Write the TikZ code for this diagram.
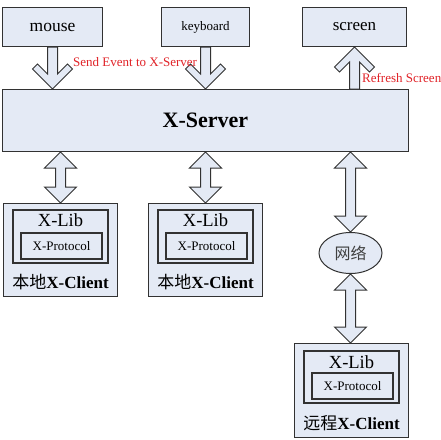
\documentclass[tikz,border=0pt]{standalone}
\usepackage{fontspec}
\setmainfont{Liberation Serif}
\newfontfamily\cjk{Noto Sans CJK SC}
\usetikzlibrary{calc,shapes.geometric}
\definecolor{boxfill}{RGB}{228,234,245}
\definecolor{edgegray}{RGB}{50,50,50}
\definecolor{lblred}{RGB}{225,35,40}
\newcommand\fs[1]{\fontsize{#1}{#1}\selectfont}
\newcommand\downarrowblk[2]{%
 \draw[blk] ($(#1)+(-5pt,0pt)$) -- ($(#2)+(-5pt,15pt)$) -- ($(#2)+(-15pt,25pt)$) -- ($(#2)+(-20pt,20pt)$) -- (#2) -- ($(#2)+(20pt,20pt)$) -- ($(#2)+(15pt,25pt)$) -- ($(#2)+(5pt,15pt)$) -- ($(#1)+(5pt,0pt)$) -- cycle;}
\newcommand\uparrowblk[2]{%
 \draw[blk] ($(#1)+(-5pt,0pt)$) -- ($(#2)+(-5pt,-15pt)$) -- ($(#2)+(-15pt,-25pt)$) -- ($(#2)+(-20pt,-20pt)$) -- (#2) -- ($(#2)+(20pt,-20pt)$) -- ($(#2)+(15pt,-25pt)$) -- ($(#2)+(5pt,-15pt)$) -- ($(#1)+(5pt,0pt)$) -- cycle;}
\newcommand\dblarrowblk[2]{%
 \draw[blk] (#1) -- ($(#1)+(16pt,-16pt)$) -- ($(#1)+(5pt,-16pt)$) -- ($(#2)+(5pt,16pt)$) -- ($(#2)+(16pt,16pt)$) -- (#2) -- ($(#2)+(-16pt,16pt)$) -- ($(#2)+(-5pt,16pt)$) -- ($(#1)+(-5pt,-16pt)$) -- ($(#1)+(-16pt,-16pt)$) -- cycle;}
\begin{document}
\begin{tikzpicture}[x=1pt,y=-1pt,
  devbox/.style={draw=edgegray,fill=boxfill,line width=1pt,inner sep=0pt},
  innerbox/.style={draw=edgegray,fill=boxfill,line width=1.6pt,inner sep=0pt},
  blk/.style={draw=edgegray,fill=boxfill,line width=1pt,line join=miter},
  lbl/.style={inner sep=0pt,text=black},
  redlbl/.style={inner sep=0pt,text=lblred,font=\fs{13}},
  ]
\fill[white] (0,0) rectangle (441,439);
\useasboundingbox (0,0) rectangle (441,439);
% top devices
\node[devbox,minimum width=100pt,minimum height=39pt,font=\fs{17.5}] (mouse) at (52.5,27) {mouse};
\node[devbox,minimum width=88pt,minimum height=39pt,font=\fs{13}] (keyboard) at (205.5,27) {keyboard};
\node[devbox,minimum width=104pt,minimum height=39pt,font=\fs{17}] (screen) at (354.5,27) {screen};
% server
\node[devbox,minimum width=406pt,minimum height=62pt,font=\bfseries\fs{22}] (server) at (205.5,120.5) {X-Server};
% local client 1
\node[devbox,minimum width=114pt,minimum height=93pt] (c1) at (60.5,250) {};
\node[innerbox,minimum width=95pt,minimum height=53pt] (c1lib) at (60.5,236.5) {};
\node[innerbox,minimum width=81pt,minimum height=26pt,font=\fs{13}] (c1proto) at (61.5,246) {X-Protocol};
\node[lbl,font=\fs{18.5}] (c1libt) at (60.5,220.5) {X-Lib};
\node[lbl,font=\fs{17}] (c1name) at (60.5,282) {{\cjk 本地}\textbf{X-Client}};
% local client 2
\node[devbox,minimum width=114pt,minimum height=93pt] (c2) at (205.5,250) {};
\node[innerbox,minimum width=95pt,minimum height=53pt] (c2lib) at (205.5,236.5) {};
\node[innerbox,minimum width=81pt,minimum height=26pt,font=\fs{13}] (c2proto) at (206.5,246) {X-Protocol};
\node[lbl,font=\fs{18.5}] (c2libt) at (205.5,220.5) {X-Lib};
\node[lbl,font=\fs{17}] (c2name) at (205.5,282) {{\cjk 本地}\textbf{X-Client}};
% network
\node[draw=edgegray,fill=boxfill,line width=1pt,ellipse,inner sep=0pt,minimum width=63pt,minimum height=41pt,font=\cjk\fs{16},text=black!75] (net) at (350.5,253) {网络};
% remote client
\node[devbox,minimum width=114pt,minimum height=94pt] (rc) at (351.5,390.5) {};
\node[innerbox,minimum width=95pt,minimum height=52pt] (rclib) at (351.5,377) {};
\node[innerbox,minimum width=81pt,minimum height=26pt,font=\fs{13}] (rcproto) at (352.5,386) {X-Protocol};
\node[lbl,font=\fs{18.5}] (rclibt) at (351.5,362) {X-Lib};
\node[lbl,font=\fs{17}] (rcname) at (351.5,423) {{\cjk 远程}\textbf{X-Client}};
% arrow end coordinates
\coordinate (mt) at (mouse.south |- server.north);
\coordinate (kt) at (keyboard.south |- server.north);
\coordinate (sb) at (screen.south |- server.north);
\coordinate (a1) at (c1.north |- server.south);
\coordinate (a2) at (c2.north |- server.south);
\coordinate (a3) at (net.north |- server.south);
\coordinate (a4) at (net.south |- rc.north);
% block arrows
\downarrowblk{mouse.south}{mt}
\downarrowblk{keyboard.south}{kt}
\uparrowblk{sb}{screen.south}
\dblarrowblk{a1}{c1.north}
\dblarrowblk{a2}{c2.north}
\dblarrowblk{a3}{net.north}
\dblarrowblk{net.south}{a4}
% red labels
\node[redlbl,anchor=west] (sendlbl) at (73,62) {Send Event to X-Server};
\node[redlbl,anchor=west] (reflbl) at (362,78) {Refresh Screen};
\end{tikzpicture}
\end{document}
